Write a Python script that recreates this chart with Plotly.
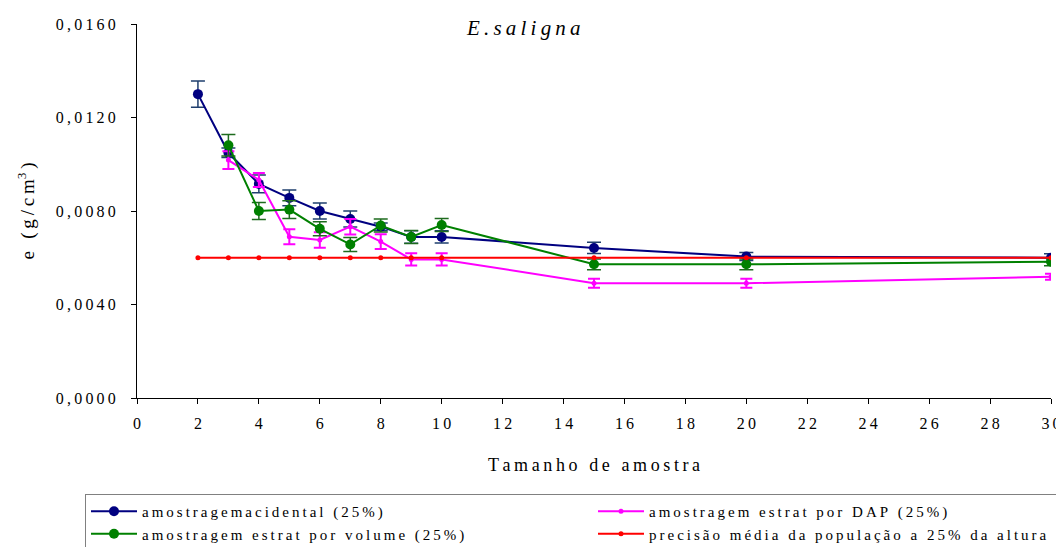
import plotly.graph_objects as go

# Tamanho de amostra
x_acid = [2, 3, 4, 5, 6, 7, 8, 9, 10, 15, 20, 30]
x_strat = [3, 4, 5, 6, 7, 8, 9, 10, 15, 20, 30]
x_pop = [2, 3, 4, 5, 6, 7, 8, 9, 10, 15, 20, 30]

# e (g/cm3) and error bar half-widths
e_acid = [0.01300, 0.01049, 0.00916, 0.00856, 0.00800, 0.00766, 0.00733,
          0.00689, 0.00689, 0.00642, 0.00605, 0.00600]
err_acid = [0.00056, 0.00020, 0.00038, 0.00034, 0.00034, 0.00034, 0.00016,
            0.00027, 0.00026, 0.00024, 0.00017, 0.00017]

e_vol = [0.01081, 0.00800, 0.00806, 0.00724, 0.00657, 0.00738, 0.00689,
         0.00740, 0.00572, 0.00572, 0.00583]
err_vol = [0.00046, 0.00036, 0.00038, 0.00030, 0.00030, 0.00028, 0.00028,
           0.00028, 0.00023, 0.00023, 0.00017]

e_dap = [0.01018, 0.00933, 0.00690, 0.00676, 0.00733, 0.00669, 0.00593,
         0.00593, 0.00491, 0.00491, 0.00519]
err_dap = [0.00038, 0.00030, 0.00032, 0.00033, 0.00033, 0.00032, 0.00026,
           0.00026, 0.00019, 0.00019, 0.00013]

e_pop = [0.0060] * 12

y_ticks = [0.0, 0.004, 0.008, 0.012, 0.016]
y_tick_labels = ["0,0000", "0,0040", "0,0080", "0,0120", "0,0160"]
x_ticks = list(range(0, 31, 2))

THIN = "\u2009"


def spaced(s):
    # the original uses wide letter spacing everywhere
    return THIN.join(s)


SERIF = "Liberation Serif, Times New Roman, serif"

# page body has an 8px margin, so the figure is drawn 8px in from the corner
W, H = 1056, 539
PLOT_L, PLOT_T, PLOT_R, PLOT_B = 129, 16, 1043, 390
plot_w = PLOT_R - PLOT_L
plot_h = PLOT_B - PLOT_T

fig = go.Figure()

fig.add_trace(go.Scatter(
    x=x_acid, y=e_acid, mode="lines+markers",
    name=spaced("amostragemacidental (25%)"),
    line={"color": "#000080", "width": 2},
    marker={"color": "#000080", "size": 10},
    error_y={"type": "data", "array": err_acid, "visible": True,
             "color": "#1F3F6E", "thickness": 1.5, "width": 7},
))
fig.add_trace(go.Scatter(
    x=x_strat, y=e_dap, mode="lines+markers",
    name=spaced("amostragem estrat por DAP (25%)"),
    line={"color": "#FF00FF", "width": 2},
    marker={"color": "#FF00FF", "size": 5},
    error_y={"type": "data", "array": err_dap, "visible": True,
             "color": "#FF00FF", "thickness": 2, "width": 6},
))
fig.add_trace(go.Scatter(
    x=x_strat, y=e_vol, mode="lines+markers",
    name=spaced("amostragem estrat por volume (25%)"),
    line={"color": "#008000", "width": 2},
    marker={"color": "#008000", "size": 10},
    error_y={"type": "data", "array": err_vol, "visible": True,
             "color": "#1E6B1E", "thickness": 1.5, "width": 7},
))
fig.add_trace(go.Scatter(
    x=x_pop, y=e_pop, mode="lines+markers",
    name=spaced("precisão média da população a 25% da altura"),
    line={"color": "#FF0000", "width": 2},
    marker={"color": "#FF0000", "size": 5},
))

fig.update_layout(
    width=W, height=H,
    margin={"l": PLOT_L, "r": W - PLOT_R, "t": PLOT_T, "b": H - PLOT_B,
            "autoexpand": False},
    paper_bgcolor="white", plot_bgcolor="white",
    font={"family": SERIF, "color": "black", "size": 14},
    showlegend=True,
    legend={
        "orientation": "h",
        "x": (77 - PLOT_L) / plot_w, "xanchor": "left",
        "y": (PLOT_B - 486) / plot_h, "yanchor": "top",
        "entrywidth": 446, "entrywidthmode": "pixels", "itemwidth": 46,
        "bordercolor": "#808080", "borderwidth": 1,
        "font": {"family": SERIF, "size": 15},
        "traceorder": "normal",
    },
    annotations=[{
        "text": "<i>" + spaced("E.saligna") + "</i>",
        "x": (515 - PLOT_L) / plot_w, "y": 1 + (PLOT_T - 20) / plot_h,
        "xref": "paper", "yref": "paper",
        "xanchor": "center", "yanchor": "middle", "showarrow": False,
        "font": {"family": SERIF, "size": 21},
    }],
)

fig.update_xaxes(
    range=[0, 30], tickvals=x_ticks, ticktext=[spaced(str(v)) for v in x_ticks],
    showgrid=False, zeroline=False, showline=True, linecolor="black", linewidth=1,
    ticks="outside", ticklen=5, tickcolor="black", ticklabelstandoff=6,
    tickfont={"family": SERIF, "size": 16}, automargin=False,
    title={"text": spaced("Tamanho de amostra"), "standoff": 27,
           "font": {"family": SERIF, "size": 18}},
)
fig.update_yaxes(
    range=[0, 0.016], tickvals=y_ticks, ticktext=[spaced(t) for t in y_tick_labels],
    showgrid=False, zeroline=False, showline=True, linecolor="black", linewidth=1,
    ticks="outside", ticklen=5, tickcolor="black", ticklabelstandoff=12,
    tickfont={"family": SERIF, "size": 16}, automargin=False,
    title={"text": THIN.join(["e", " ", "(", "g", "/", "c", "m<sup>3</sup>", ")"]),
           "standoff": 16, "font": {"family": SERIF, "size": 19}},
)

fig.write_html("out.html")
